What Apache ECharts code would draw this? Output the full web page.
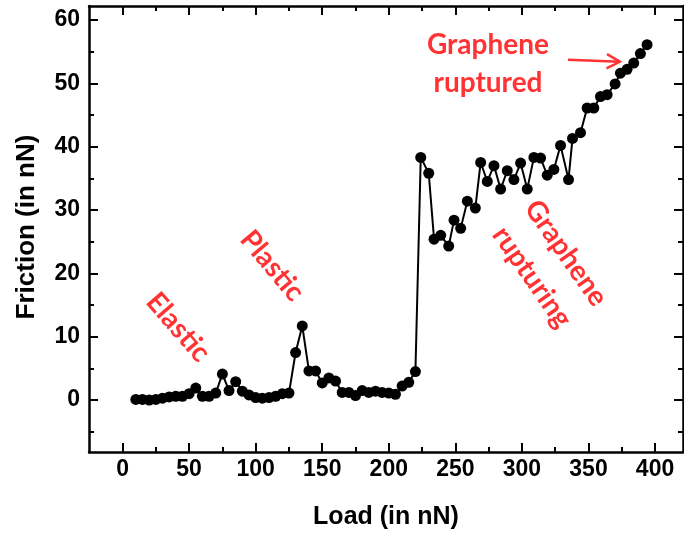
<!DOCTYPE html>
<html>
<head>
<meta charset="utf-8">
<script src="https://cdn.jsdelivr.net/npm/echarts@6/dist/echarts.min.js"></script>
<style>
  html, body { margin: 0; padding: 0; background: #ffffff; }
  #chart { width: 684px; height: 534px; }
</style>
</head>
<body>
<div id="chart"></div>
<script>
// Applied load (nN) and measured friction (nN)
const loads = [10, 15, 20, 25, 30, 35, 40, 45, 50, 55, 60, 65, 70, 75, 80, 85, 90, 95, 100, 105,
  110, 115, 120, 125, 130, 135, 140, 145, 150, 155, 160, 165, 170, 175, 180, 185, 190, 195, 200, 205,
  210, 215, 220, 224, 230, 234, 239, 245, 249, 254, 259, 265, 269, 274, 279, 284, 289, 294, 299, 304,
  309, 314, 319, 324, 329, 335, 338, 344, 349, 354, 359, 364, 370, 374, 379, 384, 389, 394];
const friction = [0.1, 0.1, 0.0, 0.1, 0.3, 0.5, 0.6, 0.6, 1.0, 1.9, 0.6, 0.6, 1.1, 4.1, 1.5, 2.9, 1.4, 0.8, 0.4, 0.3,
  0.4, 0.6, 1.0, 1.1, 7.5, 11.7, 4.6, 4.6, 2.7, 3.5, 3.0, 1.2, 1.2, 0.7, 1.5, 1.2, 1.4, 1.2, 1.1, 0.9,
  2.2, 2.8, 4.5, 38.3, 35.8, 25.4, 26.0, 24.3, 28.4, 27.1, 31.4, 30.3, 37.5, 34.5, 37.0, 33.3, 36.2, 34.8, 37.4, 33.3,
  38.3, 38.2, 35.5, 36.4, 40.2, 34.8, 41.3, 42.2, 46.1, 46.1, 47.9, 48.2, 49.9, 51.6, 52.2, 53.2, 54.7, 56.1];

// Tick positions
const xMajor = [0, 50, 100, 150, 200, 250, 300, 350, 400];
const xMinor = [25, 75, 125, 175, 225, 275, 325, 375];
const yMajor = [0, 10, 20, 30, 40, 50, 60];
const yMinor = [-5, 5, 15, 25, 35, 45, 55];

const X_MIN = -25.2, X_MAX = 421;
const Y_MIN = -8.2, Y_MAX = 62.2;

const RED = '#ff3333';
const AXIS_FONT = 'Liberation Sans, Arial, sans-serif';
const NOTE_FONT = 'Lato, Open Sans, sans-serif';

const chart = echarts.init(document.getElementById('chart'), null, { renderer: 'canvas' });

function makeAxis(kind, position, values, len, opts) {
  const ax = {
    type: 'value',
    position: position,
    min: kind === 'x' ? X_MIN : Y_MIN,
    max: kind === 'x' ? X_MAX : Y_MAX,
    splitLine: { show: false },
    axisLine: { show: !!opts.line, onZero: false, lineStyle: { color: '#000', width: 2.5 } },
    axisTick: { show: true, inside: true, length: len, customValues: values,
      lineStyle: { color: '#000', width: 2 } },
    axisLabel: { show: false }
  };
  if (opts.labels) {
    ax.axisLabel = {
      show: true, customValues: values, color: '#000',
      fontFamily: AXIS_FONT, fontWeight: 'bold', fontSize: 23,
      margin: kind === 'x' ? 6 : 9
    };
  }
  return ax;
}

const option = {
  animation: false,
  backgroundColor: '#ffffff',
  grid: { left: 89, right: 1, top: 6, bottom: 82, containLabel: false },
  xAxis: [
    makeAxis('x', 'bottom', xMajor, 9, { line: true, labels: true }),
    makeAxis('x', 'bottom', xMinor, 5, {}),
    makeAxis('x', 'top', xMajor, 9, { line: true }),
    makeAxis('x', 'top', xMinor, 5, {})
  ],
  yAxis: [
    makeAxis('y', 'left', yMajor, 9, { line: true, labels: true }),
    makeAxis('y', 'left', yMinor, 5, {}),
    makeAxis('y', 'right', yMajor, 9, { line: true }),
    makeAxis('y', 'right', yMinor, 5, {})
  ],
  series: [{
    type: 'line',
    xAxisIndex: 0,
    yAxisIndex: 0,
    data: loads.map((x, i) => [x, friction[i]]),
    symbol: 'circle',
    symbolSize: 11,
    showSymbol: true,
    itemStyle: { color: '#000' },
    lineStyle: { color: '#000', width: 2 },
    z: 3
  }]
};

chart.setOption(option);

// Annotations placed in data coordinates
const notes = [
  { text: 'Elastic', at: [41.7, 11.5], rot: -49 },
  { text: 'Plastic', at: [112.3, 21.2], rot: -50 },
  { text: 'Graphene', at: [333.1, 23.2], rot: -55 },
  { text: 'rupturing', at: [307.6, 19.4], rot: -55 },
  { text: 'Graphene', at: [274.5, 56.1], rot: 0 },
  { text: 'ruptured', at: [274.5, 50.1], rot: 0 }
];
const arrowFrom = [334.6, 53.7];
const arrowTo = [373.6, 53.4];

function px(p) { return chart.convertToPixel({ gridIndex: 0 }, p); }

const graphics = notes.map(n => {
  const p = px(n.at);
  return {
    type: 'text', x: p[0], y: p[1], rotation: n.rot * Math.PI / 180,
    style: { text: n.text, fill: RED, font: 'bold 28px ' + NOTE_FONT, align: 'center', verticalAlign: 'middle' },
    z: 10
  };
});

const a0 = px(arrowFrom), a1 = px(arrowTo);
const ang = Math.atan2(a1[1] - a0[1], a1[0] - a0[0]);
const head = 15, spread = 0.5;
graphics.push({
  type: 'polyline', z: 10,
  shape: { points: [a0, a1] },
  style: { stroke: RED, lineWidth: 2.5 }
});
graphics.push({
  type: 'polyline', z: 10,
  shape: { points: [
    [a1[0] - head * Math.cos(ang - spread), a1[1] - head * Math.sin(ang - spread)],
    a1,
    [a1[0] - head * Math.cos(ang + spread), a1[1] - head * Math.sin(ang + spread)]
  ] },
  style: { stroke: RED, lineWidth: 2.5, fill: null }
});

// Axis titles
const gLeft = 89, gRight = 683, gTop = 6, gBottom = 452;
graphics.push({
  type: 'text', x: (gLeft + gRight) / 2, y: 517,
  style: { text: 'Load (in nN)', fill: '#000', font: 'bold 25px ' + AXIS_FONT, align: 'center', verticalAlign: 'middle' }
});
graphics.push({
  type: 'text', x: 27, y: 227, rotation: Math.PI / 2,
  style: { text: 'Friction (in nN)', fill: '#000', font: 'bold 26px ' + AXIS_FONT, align: 'center', verticalAlign: 'middle' }
});

chart.setOption({ graphic: graphics });
</script>
</body>
</html>
